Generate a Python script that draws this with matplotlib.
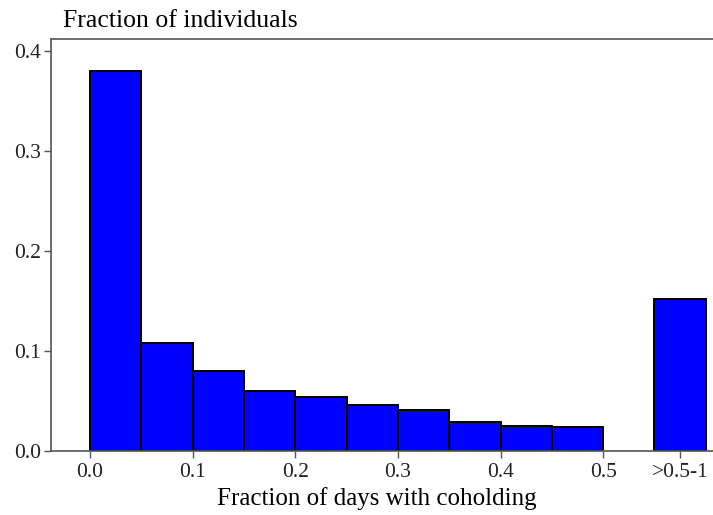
import numpy as np
import matplotlib
matplotlib.use("Agg")
import matplotlib.pyplot as plt

# Anteil der Individuen je Klasse
bin_lefts = [0.00, 0.05, 0.10, 0.15, 0.20, 0.25, 0.30, 0.35, 0.40, 0.45]
fractions = [0.380, 0.108, 0.080, 0.060, 0.054, 0.0455, 0.041, 0.029, 0.025, 0.0235]

# letzte Klasse: >0.5-1
tail_left = 0.55
tail_fraction = 0.152
bin_width = 0.05

x_ticks = [0.0, 0.1, 0.2, 0.3, 0.4, 0.5, 0.575]
x_ticklabels = ["0.0", "0.1", "0.2", "0.3", "0.4", "0.5", ">0.5-1"]
y_ticks = [0.0, 0.1, 0.2, 0.3, 0.4]
y_ticklabels = ["0.0", "0.1", "0.2", "0.3", "0.4"]

plt.rcParams['font.family'] = ['Liberation Serif', 'DejaVu Serif']
spine_color = '#555555'

fig = plt.figure(figsize=(7.13, 5.15), dpi=100)
ax = fig.add_axes([51 / 713, 0.1249, 1 - 51 / 713 + 0.01, 0.80])

ax.bar(bin_lefts, fractions, width=bin_width, align='edge',
       color='#0000ff', edgecolor='black', linewidth=1.4)
ax.bar([tail_left], [tail_fraction], width=bin_width, align='edge',
       color='#0000ff', edgecolor='black', linewidth=1.4)

ax.set_xlim(-0.038, 0.614)
ax.set_ylim(0, 0.412)

ax.set_xticks(x_ticks)
ax.set_xticklabels(x_ticklabels)
ax.set_yticks(y_ticks)
ax.set_yticklabels(y_ticklabels)
ax.tick_params(axis='both', direction='out', length=5, width=1,
               color=spine_color, labelsize=15.5, labelcolor='#222222')
ax.tick_params(axis='x', pad=4)
ax.tick_params(axis='y', pad=2)

for side in ['left', 'top', 'bottom']:
    ax.spines[side].set_color(spine_color)
    ax.spines[side].set_linewidth(1.2)
ax.spines['right'].set_visible(False)

# Achsentitel etwas links von der Achsenmitte, wie im Original
ax.set_xlabel("Fraction of days with coholding", fontsize=18)
ax.xaxis.set_label_coords((377 - 51) / (713 - 51 + 7), -0.087)
fig.text(63 / 713, 1 - 27 / 515, "Fraction of individuals", fontsize=18.5,
         ha='left', va='baseline')

fig.savefig("out.png", dpi=100)
